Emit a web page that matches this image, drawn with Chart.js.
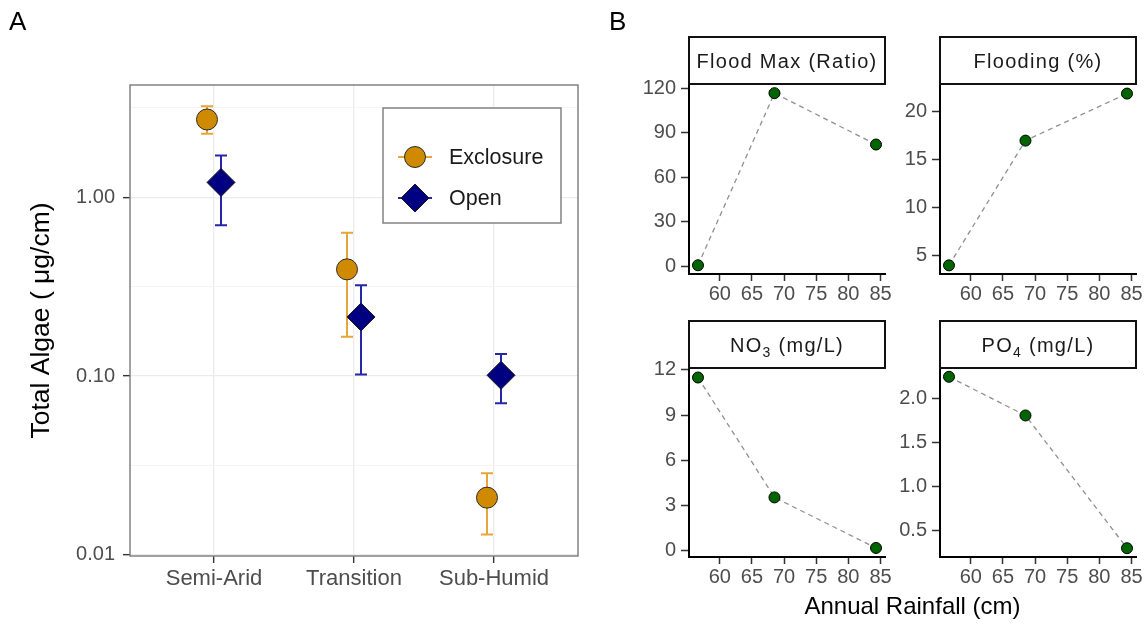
<!DOCTYPE html>
<html>
<head>
<meta charset="utf-8">
<title>Total algae and site conditions</title>
<script src="https://cdn.jsdelivr.net/npm/chart.js@4.4.1/dist/chart.umd.min.js"></script>
<style>
  html, body { margin: 0; padding: 0; background: #fff; }
  #stage { position: relative; width: 1148px; height: 625px; overflow: hidden;
           font-family: "Liberation Sans", Arial, Helvetica, sans-serif; }
  #stage canvas { position: absolute; left: 0; top: 0; }
  .lbl { position: absolute; color: #000; white-space: nowrap; }
</style>
</head>
<body>
<div id="stage">
  <canvas id="algae" width="1148" height="625"></canvas>
  <canvas id="fFloodMax" width="1148" height="625"></canvas>
  <canvas id="fFlooding" width="1148" height="625"></canvas>
  <canvas id="fNO3" width="1148" height="625"></canvas>
  <canvas id="fPO4" width="1148" height="625"></canvas>
  <div class="lbl" style="left:9px;top:8px;font-size:26px;line-height:26px;">A</div>
  <div class="lbl" style="left:609px;top:8px;font-size:26px;line-height:26px;">B</div>
  <div class="lbl" style="left:689px;width:447px;top:594px;font-size:24px;line-height:24px;text-align:center;">Annual Rainfall (cm)</div>
</div>
<script>
// ---- Panel A: total algae by climate region (log scale) ----
const regions = ['Semi-Arid', 'Transition', 'Sub-Humid'];
const exclosureMean = [2.72, 0.395, 0.0209];
const exclosureLow  = [2.26, 0.166, 0.0130];
const exclosureHigh = [3.22, 0.633, 0.0286];
const openMean = [1.21, 0.214, 0.101];
const openLow  = [0.698, 0.102, 0.0704];
const openHigh = [1.71, 0.322, 0.133];
const algaeTicks = [0.01, 0.1, 1];
const algaeTickLabels = ['0.01', '0.10', '1.00'];
const algaeMinorTicks = [0.0316, 0.316, 3.16];

// ---- Panel B: site conditions against annual rainfall ----
const rainfall = [56.6, 68.5, 84.3];
const rainTicks = [60, 65, 70, 75, 80, 85];
const floodMax = [0.5, 116.8, 82.1];
const floodMaxTicks = [0, 30, 60, 90, 120];
const flooding = [4.0, 17.0, 21.9];
const floodingTicks = [5, 10, 15, 20];
const no3 = [11.5, 3.55, 0.2];
const no3Ticks = [0, 3, 6, 9, 12];
const po4 = [2.25, 1.81, 0.30];
const po4Ticks = [0.5, 1.0, 1.5, 2.0];
const po4TickLabels = ['0.5', '1.0', '1.5', '2.0'];

const FONT = '"Liberation Sans", Arial, Helvetica, sans-serif';
const W = 1148, H = 625;
const TICK_TEXT = '#4d4d4d';

function padFor(area, yW, xH) {
  return { left: area.left - yW, top: area.top, right: W - area.right, bottom: H - area.bottom - xH };
}

// ---------- Panel A ----------
const DODGE = 0.05;
const CAP = 6;
const AREA_A = { left: 130, top: 85, right: 578, bottom: 556 };
const toPts = (means, off) => means.map((v, i) => ({ x: i + 1 + off, y: v }));

const errorBars = {
  id: 'errorBars',
  beforeDatasetsDraw(chart) {
    const { ctx, scales: { x, y } } = chart;
    chart.data.datasets.forEach(ds => {
      ctx.save();
      ctx.strokeStyle = ds.errColor;
      ctx.lineWidth = 2;
      ds.data.forEach((p, i) => {
        const px = x.getPixelForValue(p.x);
        const yl = y.getPixelForValue(ds.errLow[i]);
        const yh = y.getPixelForValue(ds.errHigh[i]);
        ctx.beginPath();
        ctx.moveTo(px, yl); ctx.lineTo(px, yh);
        ctx.moveTo(px - CAP, yl); ctx.lineTo(px + CAP, yl);
        ctx.moveTo(px - CAP, yh); ctx.lineTo(px + CAP, yh);
        ctx.stroke();
      });
      ctx.restore();
    });
  }
};

function drawMarker(ctx, ds, cx, cy) {
  ctx.fillStyle = ds.pointBackgroundColor;
  ctx.strokeStyle = ds.pointBorderColor;
  ctx.lineWidth = ds.pointBorderWidth;
  const r = ds.pointRadius;
  ctx.beginPath();
  if (ds.pointStyle === 'circle') {
    ctx.arc(cx, cy, r, 0, Math.PI * 2);
  } else {
    ctx.moveTo(cx, cy - r); ctx.lineTo(cx + r, cy);
    ctx.lineTo(cx, cy + r); ctx.lineTo(cx - r, cy);
    ctx.closePath();
  }
  ctx.fill();
  ctx.stroke();
}

const frameAndLegend = {
  id: 'frameAndLegend',
  afterDraw(chart) {
    const { ctx, chartArea: a } = chart;
    ctx.save();
    // panel border
    ctx.strokeStyle = '#7a7a7a';
    ctx.lineWidth = 1.4;
    ctx.strokeRect(a.left, a.top, a.right - a.left, a.bottom - a.top);
    // legend box
    const box = { left: 383, top: 108, right: 561, bottom: 223 };
    ctx.fillStyle = '#fff';
    ctx.fillRect(box.left, box.top, box.right - box.left, box.bottom - box.top);
    ctx.strokeRect(box.left, box.top, box.right - box.left, box.bottom - box.top);
    const rows = [157, 198];
    chart.data.datasets.forEach((ds, k) => {
      const cy = rows[k], cx = 415;
      ctx.strokeStyle = ds.errColor;
      ctx.lineWidth = 2;
      ctx.beginPath();
      ctx.moveTo(cx - 17, cy); ctx.lineTo(cx + 17, cy);
      ctx.stroke();
      drawMarker(ctx, ds, cx, cy);
      ctx.fillStyle = '#1a1a1a';
      ctx.font = '21.5px ' + FONT;
      ctx.textAlign = 'left';
      ctx.textBaseline = 'middle';
      ctx.fillText(ds.label, 449, cy + 1);
    });
    ctx.restore();
  }
};

const isMajor = v => algaeTicks.some(t => Math.abs(t - v) / t < 1e-6);

new Chart(document.getElementById('algae'), {
  type: 'scatter',
  data: {
    datasets: [
      {
        label: 'Exclosure', data: toPts(exclosureMean, -DODGE),
        errLow: exclosureLow, errHigh: exclosureHigh, errColor: '#E8A63A',
        pointStyle: 'circle', pointRadius: 10.5, pointHoverRadius: 10.5,
        pointBackgroundColor: '#D08A00', pointBorderColor: '#2a2a2a', pointBorderWidth: 1
      },
      {
        label: 'Open', data: toPts(openMean, DODGE),
        errLow: openLow, errHigh: openHigh, errColor: '#2626A8',
        pointStyle: 'rectRot', pointRadius: 14, pointHoverRadius: 14,
        pointBackgroundColor: '#000080', pointBorderColor: '#1a1a1a', pointBorderWidth: 1
      }
    ]
  },
  options: {
    responsive: false, animation: false, events: [],
    layout: { padding: padFor(AREA_A, 130, 50) },
    plugins: { legend: { display: false }, tooltip: { enabled: false } },
    scales: {
      x: {
        type: 'linear', min: 0.4, max: 3.6,
        afterBuildTicks: s => { s.ticks = regions.map((_, i) => ({ value: i + 1 })); },
        afterFit: s => { s.height = 50; },
        ticks: {
          callback: (v, i) => regions[i], autoSkip: false, maxRotation: 0,
          font: { family: FONT, size: 22 }, color: TICK_TEXT, padding: 3
        },
        grid: { color: '#ebebeb', lineWidth: 1.3, tickLength: 7, tickColor: '#333', tickWidth: 1.4 },
        border: { display: false }
      },
      y: {
        type: 'logarithmic', min: 0.00986, max: 4.24,
        afterBuildTicks: s => {
          s.ticks = algaeTicks.concat(algaeMinorTicks).sort((p, q) => p - q).map(v => ({ value: v }));
        },
        afterFit: s => { s.width = 130; },
        ticks: {
          callback: v => { const k = algaeTicks.findIndex(t => Math.abs(t - v) / t < 1e-6); return k < 0 ? '' : algaeTickLabels[k]; },
          autoSkip: false, font: { family: FONT, size: 20 }, color: TICK_TEXT, padding: 8
        },
        grid: {
          color: c => isMajor(c.tick.value) ? '#ebebeb' : '#f4f4f4',
          lineWidth: c => isMajor(c.tick.value) ? 1.3 : 1,
          tickLength: 7,
          tickColor: c => isMajor(c.tick.value) ? '#333' : 'rgba(0,0,0,0)',
          tickWidth: 1.4
        },
        border: { display: false },
        title: {
          display: true, text: 'Total Algae ( μg/cm)', color: '#000',
          font: { family: FONT, size: 26.5 }, padding: { top: 26, bottom: 0 }
        }
      }
    }
  },
  plugins: [errorBars, frameAndLegend]
});

// ---------- Panel B facets ----------
const STRIP_H = 47;
const stripPlugin = {
  id: 'strip',
  afterDraw(chart) {
    const { ctx, chartArea: a } = chart;
    const parts = chart.options.plugins.strip.parts;
    const top = a.top - STRIP_H;
    ctx.save();
    ctx.fillStyle = '#fff';
    ctx.fillRect(a.left, top, a.right - a.left, STRIP_H);
    ctx.strokeStyle = '#111';
    ctx.lineWidth = 2;
    ctx.strokeRect(a.left, top, a.right - a.left, STRIP_H);
    // measure then draw the label, with optional subscript pieces
    const big = '20px ' + FONT, small = '14px ' + FONT;
    ctx.letterSpacing = '1.3px';
    let total = 0;
    parts.forEach(p => { ctx.font = p.sub ? small : big; total += ctx.measureText(p.t).width; });
    let x = (a.left + a.right) / 2 - total / 2;
    const base = top + STRIP_H / 2 + 7;
    ctx.fillStyle = '#1a1a1a';
    ctx.textAlign = 'left';
    ctx.textBaseline = 'alphabetic';
    parts.forEach(p => {
      ctx.font = p.sub ? small : big;
      ctx.fillText(p.t, x, p.sub ? base + 5 : base);
      x += ctx.measureText(p.t).width;
    });
    ctx.restore();
  }
};

function facet(id, area, values, yMin, yMax, yTicks, yLabels, stripParts) {
  const Y_W = 60, X_H = 40;
  new Chart(document.getElementById(id), {
    type: 'scatter',
    data: {
      datasets: [{
        data: rainfall.map((r, i) => ({ x: r, y: values[i] })),
        showLine: true, borderColor: '#8f8f8f', borderWidth: 1.3, borderDash: [5, 4],
        pointRadius: 5.5, pointHoverRadius: 5.5,
        pointBackgroundColor: '#006400', pointBorderColor: '#000', pointBorderWidth: 1,
        clip: false
      }]
    },
    options: {
      responsive: false, animation: false, events: [],
      layout: { padding: padFor(area, Y_W, X_H) },
      plugins: { legend: { display: false }, tooltip: { enabled: false }, strip: { parts: stripParts } },
      scales: {
        x: {
          type: 'linear', min: 55.2, max: 85.7,
          afterBuildTicks: s => { s.ticks = rainTicks.map(v => ({ value: v })); },
          afterFit: s => { s.height = X_H; },
          ticks: { callback: v => String(v), autoSkip: false, maxRotation: 0,
                   font: { family: FONT, size: 20 }, color: TICK_TEXT, padding: 1 },
          grid: { drawOnChartArea: false, tickLength: 7, tickColor: '#333', tickWidth: 1.5 },
          border: { display: true, color: '#000', width: 2 }
        },
        y: {
          type: 'linear', min: yMin, max: yMax,
          afterBuildTicks: s => { s.ticks = yTicks.map(v => ({ value: v })); },
          afterFit: s => { s.width = Y_W; },
          ticks: { callback: (v, i) => yLabels[i], autoSkip: false,
                   font: { family: FONT, size: 20 }, color: TICK_TEXT, padding: 5 },
          grid: { drawOnChartArea: false, tickLength: 8, tickColor: '#333', tickWidth: 1.5 },
          border: { display: true, color: '#000', width: 2 }
        }
      }
    },
    plugins: [stripPlugin]
  });
}

facet('fFloodMax', { left: 689, top: 84, right: 885, bottom: 274 }, floodMax, -5.4, 123,
      floodMaxTicks, floodMaxTicks.map(String), [{ t: 'Flood Max (Ratio)' }]);
facet('fFlooding', { left: 940, top: 84, right: 1136, bottom: 274 }, flooding, 3.1, 22.9,
      floodingTicks, floodingTicks.map(String), [{ t: 'Flooding (%)' }]);
facet('fNO3', { left: 689, top: 368, right: 885, bottom: 557 }, no3, -0.4, 12.13,
      no3Ticks, no3Ticks.map(String), [{ t: 'NO' }, { t: '3', sub: true }, { t: ' (mg/L)' }]);
facet('fPO4', { left: 940, top: 368, right: 1136, bottom: 557 }, po4, 0.2, 2.35,
      po4Ticks, po4TickLabels, [{ t: 'PO' }, { t: '4', sub: true }, { t: ' (mg/L)' }]);
</script>
</body>
</html>
